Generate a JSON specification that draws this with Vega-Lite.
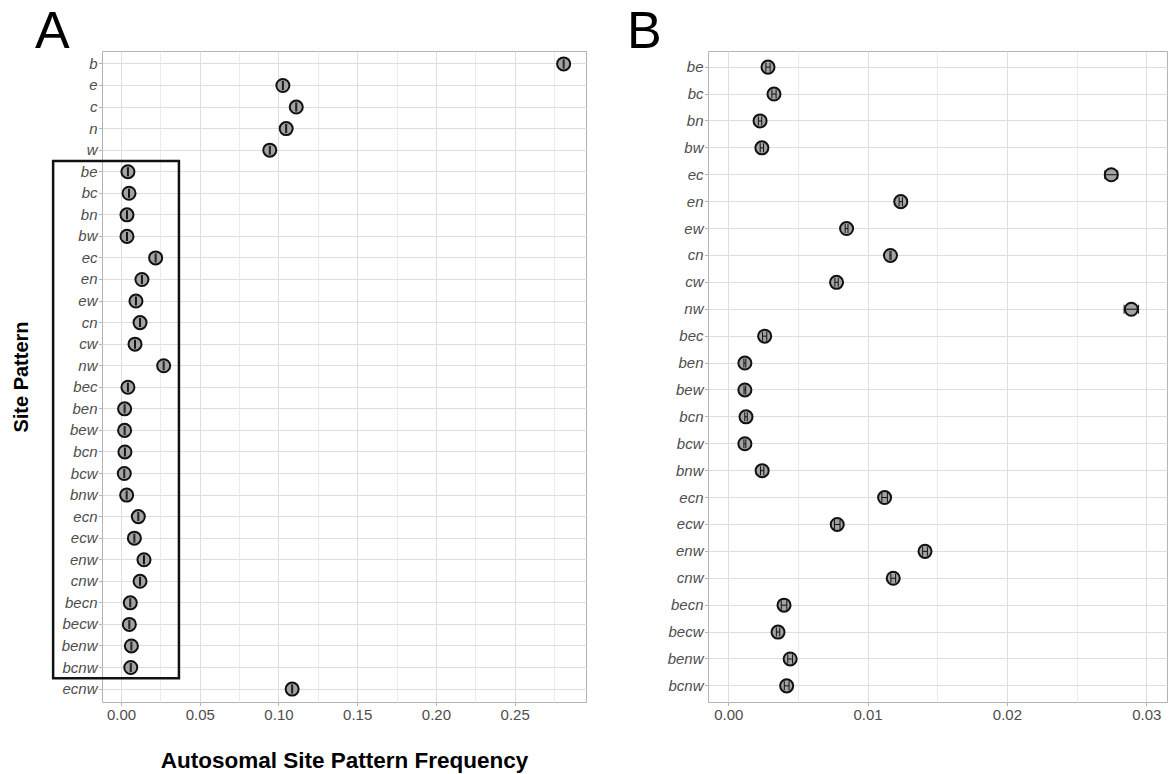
{
  "$schema": "https://vega.github.io/schema/vega-lite/v6.json",
  "padding": {"left": 10, "top": 5, "right": 0, "bottom": 0},
  "spacing": 39,
  "config": {
    "font": "Liberation Sans",
    "view": {"stroke": "#b3b3b3", "strokeWidth": 1},
    "axis": {"gridColor": "#dedede", "gridWidth": 1, "tickColor": "#b3b3b3", "domain": false, "labelColor": "#4d4d4d", "labelFontSize": 15, "titleColor": "black", "labelFont": "Liberation Sans", "titleFont": "Liberation Sans"}
  },
  "datasets": {
    "A": [
      {"pattern": "b", "freq": 0.2811, "lo": 0.2808, "hi": 0.2814},
      {"pattern": "e", "freq": 0.1028, "lo": 0.1025, "hi": 0.1031},
      {"pattern": "c", "freq": 0.1113, "lo": 0.1110, "hi": 0.1116},
      {"pattern": "n", "freq": 0.1049, "lo": 0.1046, "hi": 0.1052},
      {"pattern": "w", "freq": 0.0945, "lo": 0.0942, "hi": 0.0948},
      {"pattern": "be", "freq": 0.0044, "lo": 0.0041, "hi": 0.0047},
      {"pattern": "bc", "freq": 0.0051, "lo": 0.0048, "hi": 0.0054},
      {"pattern": "bn", "freq": 0.0038, "lo": 0.0035, "hi": 0.0041},
      {"pattern": "bw", "freq": 0.0038, "lo": 0.0035, "hi": 0.0041},
      {"pattern": "ec", "freq": 0.0220, "lo": 0.0217, "hi": 0.0223},
      {"pattern": "en", "freq": 0.0133, "lo": 0.0130, "hi": 0.0136},
      {"pattern": "ew", "freq": 0.0095, "lo": 0.0092, "hi": 0.0098},
      {"pattern": "cn", "freq": 0.0121, "lo": 0.0118, "hi": 0.0124},
      {"pattern": "cw", "freq": 0.0089, "lo": 0.0086, "hi": 0.0092},
      {"pattern": "nw", "freq": 0.0271, "lo": 0.0268, "hi": 0.0274},
      {"pattern": "bec", "freq": 0.0044, "lo": 0.0041, "hi": 0.0047},
      {"pattern": "ben", "freq": 0.0023, "lo": 0.0020, "hi": 0.0026},
      {"pattern": "bew", "freq": 0.0023, "lo": 0.0020, "hi": 0.0026},
      {"pattern": "bcn", "freq": 0.0025, "lo": 0.0022, "hi": 0.0028},
      {"pattern": "bcw", "freq": 0.0021, "lo": 0.0018, "hi": 0.0024},
      {"pattern": "bnw", "freq": 0.0036, "lo": 0.0033, "hi": 0.0039},
      {"pattern": "ecn", "freq": 0.0110, "lo": 0.0107, "hi": 0.0113},
      {"pattern": "ecw", "freq": 0.0085, "lo": 0.0082, "hi": 0.0088},
      {"pattern": "enw", "freq": 0.0146, "lo": 0.0143, "hi": 0.0149},
      {"pattern": "cnw", "freq": 0.0121, "lo": 0.0118, "hi": 0.0124},
      {"pattern": "becn", "freq": 0.0059, "lo": 0.0056, "hi": 0.0062},
      {"pattern": "becw", "freq": 0.0053, "lo": 0.0050, "hi": 0.0056},
      {"pattern": "benw", "freq": 0.0066, "lo": 0.0063, "hi": 0.0069},
      {"pattern": "bcnw", "freq": 0.0062, "lo": 0.0059, "hi": 0.0065},
      {"pattern": "ecnw", "freq": 0.1087, "lo": 0.1084, "hi": 0.1090}
    ],
    "B": [
      {"pattern": "be", "freq": 0.00285, "lo": 0.0027, "hi": 0.0030},
      {"pattern": "bc", "freq": 0.00328, "lo": 0.00313, "hi": 0.00343},
      {"pattern": "bn", "freq": 0.00228, "lo": 0.00216, "hi": 0.0024},
      {"pattern": "bw", "freq": 0.00241, "lo": 0.00229, "hi": 0.00253},
      {"pattern": "ec", "freq": 0.02749, "lo": 0.02703, "hi": 0.02795},
      {"pattern": "en", "freq": 0.01238, "lo": 0.01226, "hi": 0.0125},
      {"pattern": "ew", "freq": 0.00849, "lo": 0.00839, "hi": 0.00859},
      {"pattern": "cn", "freq": 0.01164, "lo": 0.0116, "hi": 0.01168},
      {"pattern": "cw", "freq": 0.00777, "lo": 0.00765, "hi": 0.00789},
      {"pattern": "nw", "freq": 0.02893, "lo": 0.02841, "hi": 0.02945},
      {"pattern": "bec", "freq": 0.00261, "lo": 0.00246, "hi": 0.00276},
      {"pattern": "ben", "freq": 0.00119, "lo": 0.00112, "hi": 0.00126},
      {"pattern": "bew", "freq": 0.00119, "lo": 0.00113, "hi": 0.00125},
      {"pattern": "bcn", "freq": 0.00127, "lo": 0.00118, "hi": 0.00136},
      {"pattern": "bcw", "freq": 0.00119, "lo": 0.00112, "hi": 0.00126},
      {"pattern": "bnw", "freq": 0.00243, "lo": 0.00231, "hi": 0.00255},
      {"pattern": "ecn", "freq": 0.01122, "lo": 0.01102, "hi": 0.01142},
      {"pattern": "ecw", "freq": 0.00782, "lo": 0.00762, "hi": 0.00802},
      {"pattern": "enw", "freq": 0.01412, "lo": 0.01395, "hi": 0.01429},
      {"pattern": "cnw", "freq": 0.01184, "lo": 0.01167, "hi": 0.01201},
      {"pattern": "becn", "freq": 0.0040, "lo": 0.0038, "hi": 0.0042},
      {"pattern": "becw", "freq": 0.00357, "lo": 0.00345, "hi": 0.00369},
      {"pattern": "benw", "freq": 0.00444, "lo": 0.00427, "hi": 0.00461},
      {"pattern": "bcnw", "freq": 0.00419, "lo": 0.00402, "hi": 0.00436}
    ],
    "box": [
      {"x1": -0.0431, "x2": 0.0368, "top": "be", "bottom": "bcnw"}
    ]
  },
  "hconcat": [
    {
      "width": 484,
      "height": 651,
      "title": {"text": "A", "anchor": "start", "frame": "group", "fontSize": 52, "fontWeight": "normal", "color": "black", "dx": -67, "offset": -7.5, "font": "Liberation Sans"},
      "resolve": {"axis": {"x": "independent"}},
      "encoding": {
        "y": {"field": "pattern", "type": "nominal", "title": "Site Pattern", "scale": {"domain": ["b","e","c","n","w","be","bc","bn","bw","ec","en","ew","cn","cw","nw","bec","ben","bew","bcn","bcw","bnw","ecn","ecw","enw","cnw","becn","becw","benw","bcnw","ecnw"], "paddingInner": 0, "paddingOuter": 0.1},
          "axis": {"title": "Site Pattern", "titleFontSize": 20, "titleFontWeight": "bold", "titlePadding": 30, "labelFontStyle": "italic", "tickSize": 3.5, "labelPadding": 1.5, "grid": true}}
      },
      "layer": [
        {
          "data": {"name": "A"},
          "mark": {"type": "circle", "size": 170, "fill": "#a3a3a3", "stroke": "#111111", "strokeWidth": 2, "opacity": 1},
          "encoding": {
            "x": {"field": "freq", "type": "quantitative", "scale": {"domain": [-0.01206, 0.2953], "nice": false, "zero": false},
              "axis": {"orient": "bottom", "title": "Autosomal Site Pattern Frequency", "titleFontSize": 22.5, "titleFontWeight": "bold", "titlePadding": 27, "values": [0, 0.05, 0.1, 0.15, 0.2, 0.25], "format": ".2f", "tickSize": 3.5, "labelPadding": 2, "grid": true}}
          }
        },
        {
          "data": {"name": "A"},
          "mark": {"type": "rule", "color": "#111111", "strokeWidth": 1},
          "encoding": {
            "x": {"field": "lo", "type": "quantitative", "scale": {"domain": [-0.01206, 0.2953], "nice": false, "zero": false},
              "axis": {"orient": "top", "title": null, "values": [0.025, 0.075, 0.125, 0.175, 0.225, 0.275], "labels": false, "ticks": false, "domain": false, "grid": true, "gridColor": "#ebebeb"}},
            "x2": {"field": "hi"}
          }
        },
        {
          "data": {"name": "A"},
          "mark": {"type": "tick", "orient": "vertical", "size": 9, "thickness": 1, "color": "#111111", "opacity": 1},
          "encoding": {
            "x": {"field": "lo", "type": "quantitative", "scale": {"domain": [-0.01206, 0.2953], "nice": false, "zero": false}, "axis": null}
          }
        },
        {
          "data": {"name": "A"},
          "mark": {"type": "tick", "orient": "vertical", "size": 9, "thickness": 1, "color": "#111111", "opacity": 1},
          "encoding": {
            "x": {"field": "hi", "type": "quantitative", "scale": {"domain": [-0.01206, 0.2953], "nice": false, "zero": false}, "axis": null}
          }
        },
        {
          "data": {"name": "box"},
          "mark": {"type": "rect", "filled": false, "stroke": "#111111", "strokeWidth": 2.5, "clip": false},
          "encoding": {
            "y": {"field": "top", "type": "nominal", "title": "Site Pattern", "bandPosition": 0},
            "y2": {"field": "bottom", "bandPosition": 1},
            "x": {"field": "x1", "type": "quantitative", "scale": {"domain": [-0.01206, 0.2953], "nice": false, "zero": false}, "axis": null},
            "x2": {"field": "x2"}
          }
        }
      ]
    },
    {
      "width": 459,
      "height": 651,
      "title": {"text": "B", "anchor": "start", "frame": "group", "fontSize": 52, "fontWeight": "normal", "color": "black", "dx": -81, "offset": -7.5, "font": "Liberation Sans"},
      "resolve": {"axis": {"x": "independent"}},
      "encoding": {
        "y": {"field": "pattern", "type": "nominal", "scale": {"domain": ["be","bc","bn","bw","ec","en","ew","cn","cw","nw","bec","ben","bew","bcn","bcw","bnw","ecn","ecw","enw","cnw","becn","becw","benw","bcnw"], "paddingInner": 0, "paddingOuter": 0.1},
          "axis": {"title": null, "labelFontStyle": "italic", "tickSize": 3.5, "labelPadding": 1.5, "grid": true}}
      },
      "layer": [
        {
          "data": {"name": "B"},
          "mark": {"type": "circle", "size": 170, "fill": "#a3a3a3", "stroke": "#111111", "strokeWidth": 2, "opacity": 1},
          "encoding": {
            "x": {"field": "freq", "type": "quantitative", "scale": {"domain": [-0.001457, 0.03149], "nice": false, "zero": false},
              "axis": {"orient": "bottom", "title": null, "values": [0, 0.01, 0.02, 0.03], "format": ".2f", "tickSize": 3.5, "labelPadding": 2, "grid": true}}
          }
        },
        {
          "data": {"name": "B"},
          "mark": {"type": "rule", "color": "#111111", "strokeWidth": 1},
          "encoding": {
            "x": {"field": "lo", "type": "quantitative", "scale": {"domain": [-0.001457, 0.03149], "nice": false, "zero": false},
              "axis": {"orient": "top", "title": null, "values": [0.005, 0.015, 0.025], "labels": false, "ticks": false, "domain": false, "grid": true, "gridColor": "#ebebeb"}},
            "x2": {"field": "hi"}
          }
        },
        {
          "data": {"name": "B"},
          "mark": {"type": "tick", "orient": "vertical", "size": 9, "thickness": 1, "color": "#111111", "opacity": 1},
          "encoding": {
            "x": {"field": "lo", "type": "quantitative", "scale": {"domain": [-0.001457, 0.03149], "nice": false, "zero": false}, "axis": null}
          }
        },
        {
          "data": {"name": "B"},
          "mark": {"type": "tick", "orient": "vertical", "size": 9, "thickness": 1, "color": "#111111", "opacity": 1},
          "encoding": {
            "x": {"field": "hi", "type": "quantitative", "scale": {"domain": [-0.001457, 0.03149], "nice": false, "zero": false}, "axis": null}
          }
        }
      ]
    }
  ]
}
